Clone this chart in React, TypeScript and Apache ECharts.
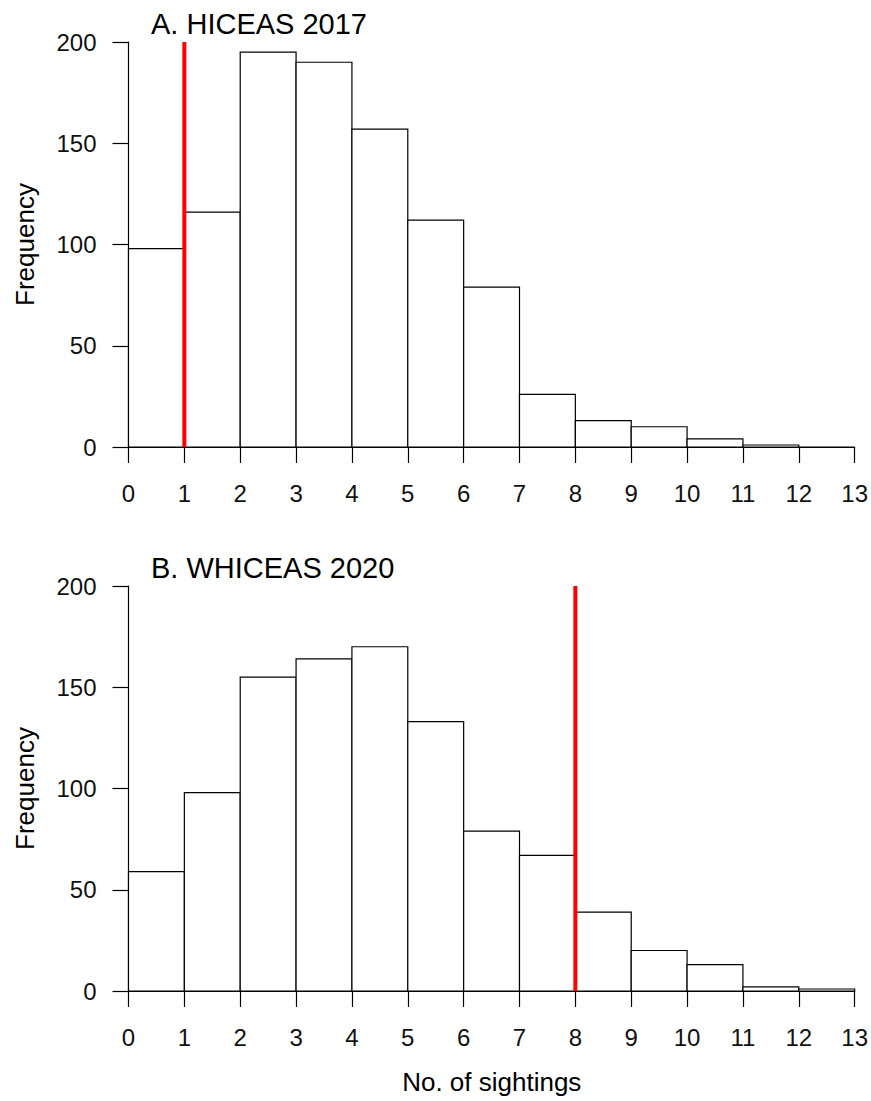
import React, { useEffect, useRef } from "react";
import * as echarts from "echarts";

// ---- data ----
const binEdges = [0, 1, 2, 3, 4, 5, 6, 7, 8, 9, 10, 11, 12, 13];
const countsA = [98, 116, 195, 190, 157, 112, 79, 26, 13, 10, 4, 1, 0];
const countsB = [59, 98, 155, 164, 170, 133, 79, 67, 39, 20, 13, 2, 1];
const panelTitles = ["A. HICEAS 2017", "B. WHICEAS 2020"];
const redLineValues = [1, 8];
const yMin = 0;
const yMax = 200;
const yInterval = 50;
const xMin = 0;
const xMax = 13;
const xInterval = 1;
const xAxisTitle = "No. of sightings";
const yAxisTitle = "Frequency";

const FONT = '"Liberation Sans", Arial, Helvetica, sans-serif';

export default function App() {
  const ref = useRef<HTMLDivElement>(null);

  useEffect(() => {
    if (!ref.current) return;
    const chart = echarts.init(ref.current, undefined, { renderer: "svg" });

    const panels = [countsA, countsB];
    const gridTops = [42, 586];
    const gridH = 405;
    const gridLeft = 128.5;
    const gridW = 726.5;

    const grids = gridTops.map((t) => ({
      left: gridLeft,
      top: t,
      width: gridW,
      height: gridH,
      containLabel: false,
    }));

    const xAxes = gridTops.map((_, i) => ({
      type: "value",
      gridIndex: i,
      min: xMin,
      max: xMax,
      interval: xInterval,
      axisLine: { show: true, onZero: false, lineStyle: { color: "#000", width: 1.2 } },
      axisTick: { show: true, length: 16, inside: false, lineStyle: { color: "#000", width: 1.2 } },
      axisLabel: { show: true, fontSize: 24, fontFamily: FONT, color: "#111", margin: 34 },
      splitLine: { show: false },
    }));

    const yAxes = gridTops.map((_, i) => ({
      type: "value",
      gridIndex: i,
      min: yMin,
      max: yMax,
      interval: yInterval,
      axisLine: { show: true, lineStyle: { color: "#000", width: 1.2 } },
      axisTick: { show: true, length: 16, inside: false, lineStyle: { color: "#000", width: 1.2 } },
      axisLabel: { show: true, fontSize: 24, fontFamily: FONT, color: "#111", margin: 32 },
      splitLine: { show: false },
    }));

    const series: any[] = [];
    panels.forEach((counts, i) => {
      series.push({
        type: "custom",
        xAxisIndex: i,
        yAxisIndex: i,
        encode: { x: [0, 1], y: 2 },
        data: counts.map((c, k) => [binEdges[k], binEdges[k + 1], c]),
        renderItem: (params: any, api: any) => {
          const p0 = api.coord([api.value(0), 0]);
          const p1 = api.coord([api.value(1), api.value(2)]);
          return {
            type: "rect",
            shape: {
              x: p0[0],
              y: p1[1],
              width: p1[0] - p0[0],
              height: p0[1] - p1[1],
            },
            style: { fill: "#fff", stroke: "#000", lineWidth: 1.2 },
          };
        },
        z: 2,
      });
      series.push({
        type: "line",
        xAxisIndex: i,
        yAxisIndex: i,
        data: [
          [redLineValues[i], yMin],
          [redLineValues[i], yMax],
        ],
        symbol: "none",
        lineStyle: { color: "#ff0000", width: 4, cap: "butt" },
        z: 5,
      });
    });

    const graphics: any[] = [];
    panelTitles.forEach((t, i) => {
      graphics.push({
        type: "text",
        x: 151,
        y: gridTops[i] - 18,
        style: {
          text: t,
          font: `29px ${FONT}`,
          fill: "#000",
          textAlign: "left",
          textVerticalAlign: "middle",
        },
      });
      graphics.push({
        type: "text",
        x: 25,
        y: gridTops[i] + gridH / 2,
        rotation: Math.PI / 2,
        style: {
          text: yAxisTitle,
          font: `26px ${FONT}`,
          fill: "#000",
          textAlign: "center",
          textVerticalAlign: "middle",
        },
      });
    });
    graphics.push({
      type: "text",
      x: gridLeft + gridW / 2,
      y: 1082,
      style: {
        text: xAxisTitle,
        font: `26px ${FONT}`,
        fill: "#000",
        textAlign: "center",
        textVerticalAlign: "middle",
      },
    });

    chart.setOption({
      animation: false,
      backgroundColor: "#fff",
      grid: grids,
      xAxis: xAxes,
      yAxis: yAxes,
      series,
      graphic: graphics,
    });

    return () => {
      chart.dispose();
    };
  }, []);

  return (
    <div
      ref={ref}
      style={{ position: "fixed", left: 0, top: 0, width: 871, height: 1101, background: "#fff" }}
    />
  );
}
